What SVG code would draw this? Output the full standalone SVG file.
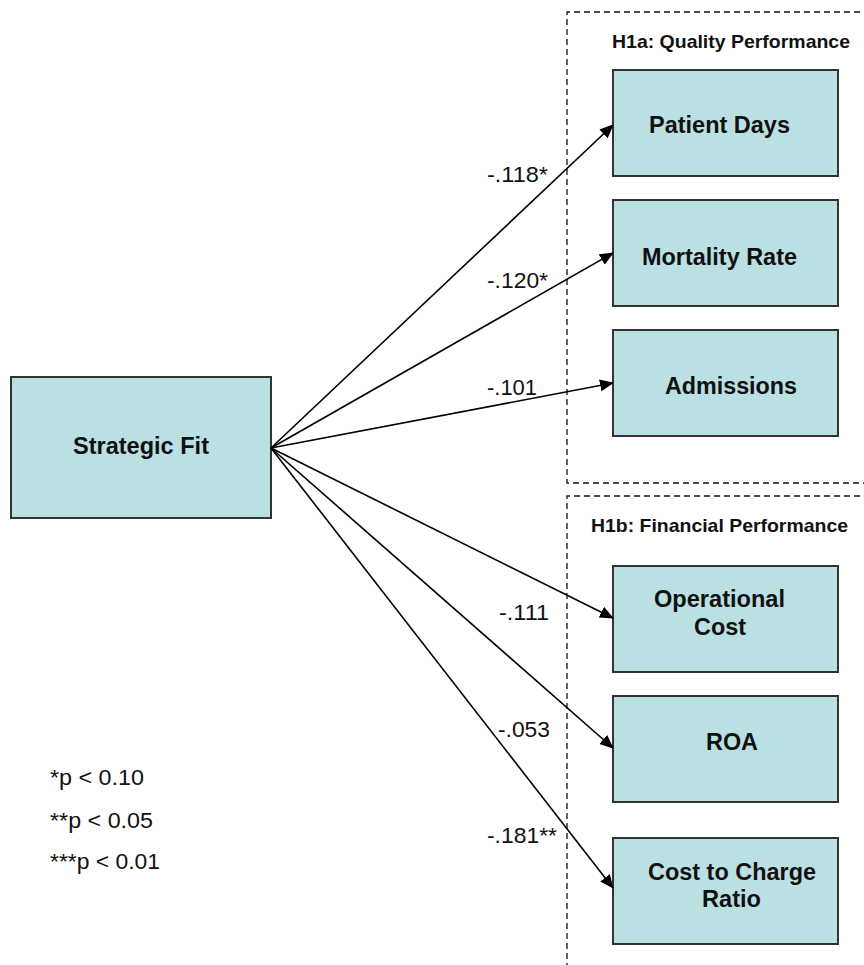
<svg xmlns="http://www.w3.org/2000/svg" width="864" height="965" viewBox="0 0 864 965">
<style>
.box{fill:#BAE0E3;stroke:#333;stroke-width:2}
.dash{fill:none;stroke:#111;stroke-width:1.3;stroke-dasharray:6,4}
.bt{font-family:"Liberation Sans",Arial,sans-serif;font-weight:bold;font-size:23px;fill:#111}
.ht{font-family:"Liberation Sans",Arial,sans-serif;font-weight:bold;font-size:19px;fill:#111}
.lb{font-family:"Liberation Sans",Arial,sans-serif;font-size:22px;fill:#111}
.lg{font-family:"Liberation Sans",Arial,sans-serif;font-size:22.5px;fill:#111}
.con line{stroke:#000;stroke-width:1.6;marker-end:url(#ah)}
</style>
<defs>
<marker id="ah" markerUnits="userSpaceOnUse" markerWidth="14" markerHeight="12" viewBox="0 0 14 12" refX="13" refY="6" orient="auto">
<path d="M0,0 L14,6 L0,12 z" fill="#000"/>
</marker>
</defs>
<rect width="864" height="965" fill="#fff"/>
<g id="group-h1a">
<path class="dash" d="M870,12 H567 V483 H870"/>
<text class="ht" x="612" y="48" textLength="238" lengthAdjust="spacingAndGlyphs">H1a: Quality Performance</text>
</g>
<g id="group-h1b">
<path class="dash" d="M870,496 H567 V970"/>
<text class="ht" x="591" y="532" textLength="257" lengthAdjust="spacingAndGlyphs">H1b: Financial Performance</text>
</g>
<g id="strategic-fit">
<rect class="box" x="11" y="377" width="260" height="141"/>
<text class="bt" x="73" y="454" textLength="136" lengthAdjust="spacingAndGlyphs">Strategic Fit</text>
</g>
<g id="patient-days">
<rect class="box" x="613" y="70" width="225" height="106"/>
<text class="bt" x="649" y="133" textLength="141" lengthAdjust="spacingAndGlyphs">Patient Days</text>
</g>
<g id="mortality-rate">
<rect class="box" x="613" y="200" width="225" height="106"/>
<text class="bt" x="642" y="265" textLength="155" lengthAdjust="spacingAndGlyphs">Mortality Rate</text>
</g>
<g id="admissions">
<rect class="box" x="613" y="330" width="225" height="106"/>
<text class="bt" x="665" y="394" textLength="132" lengthAdjust="spacingAndGlyphs">Admissions</text>
</g>
<g id="operational-cost">
<rect class="box" x="613" y="566" width="225" height="106"/>
<text class="bt" x="654" y="607" textLength="131" lengthAdjust="spacingAndGlyphs">Operational</text>
<text class="bt" x="694" y="635" textLength="52" lengthAdjust="spacingAndGlyphs">Cost</text>
</g>
<g id="roa">
<rect class="box" x="613" y="696" width="225" height="106"/>
<text class="bt" x="706" y="750" textLength="52" lengthAdjust="spacingAndGlyphs">ROA</text>
</g>
<g id="cost-to-charge">
<rect class="box" x="613" y="838" width="225" height="106"/>
<text class="bt" x="648" y="880" textLength="168" lengthAdjust="spacingAndGlyphs">Cost to Charge</text>
<text class="bt" x="702" y="907" textLength="59" lengthAdjust="spacingAndGlyphs">Ratio</text>
</g>
<g id="connectors" class="con">
<line x1="271" y1="448" x2="613" y2="125"/>
<line x1="271" y1="448" x2="613" y2="253"/>
<line x1="271" y1="448" x2="613" y2="383"/>
<line x1="271" y1="448" x2="613" y2="618"/>
<line x1="271" y1="448" x2="613" y2="748"/>
<line x1="271" y1="448" x2="613" y2="888"/>
</g>
<g id="labels">
<text class="lb" x="487" y="182" textLength="61" lengthAdjust="spacingAndGlyphs">-.118*</text>
<text class="lb" x="487" y="288" textLength="61" lengthAdjust="spacingAndGlyphs">-.120*</text>
<text class="lb" x="487" y="395" textLength="50" lengthAdjust="spacingAndGlyphs">-.101</text>
<text class="lb" x="499" y="620" textLength="50" lengthAdjust="spacingAndGlyphs">-.111</text>
<text class="lb" x="498" y="737" textLength="52" lengthAdjust="spacingAndGlyphs">-.053</text>
<text class="lb" x="487" y="843" textLength="70" lengthAdjust="spacingAndGlyphs">-.181**</text>
</g>
<g id="legend">
<text class="lg" x="50" y="785" textLength="94" lengthAdjust="spacingAndGlyphs">*p &lt; 0.10</text>
<text class="lg" x="50" y="828" textLength="103" lengthAdjust="spacingAndGlyphs">**p &lt; 0.05</text>
<text class="lg" x="50" y="869" textLength="110" lengthAdjust="spacingAndGlyphs">***p &lt; 0.01</text>
</g>
</svg>
